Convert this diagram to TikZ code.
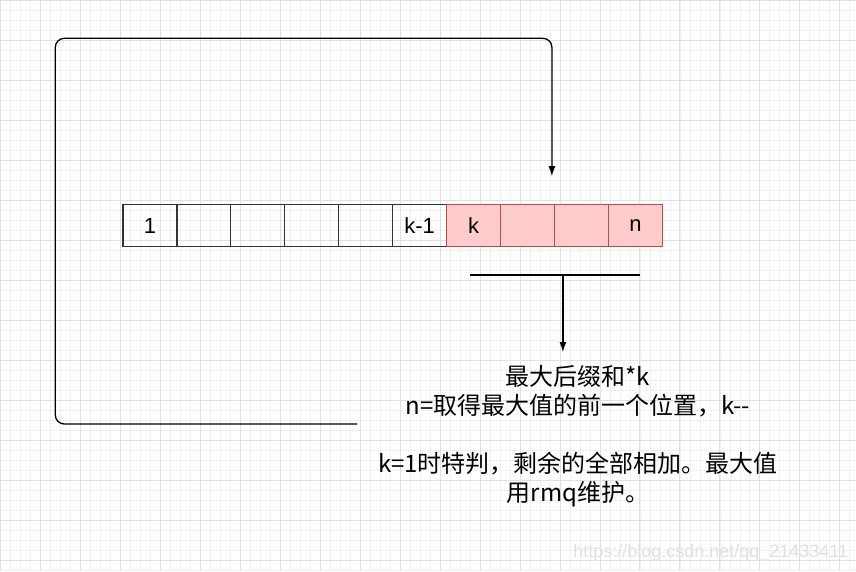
\documentclass[tikz,border=0pt]{standalone}
\usepackage{fontspec}
\setmainfont{Liberation Sans}
\newfontfamily\cjk{Noto Sans CJK SC}
\begin{document}
\begin{tikzpicture}[x=1pt,y=-1pt,
  cell/.style={draw=black!80,line width=1.3pt,minimum width=54pt,minimum height=42pt,inner sep=0pt,anchor=north west,font=\fontsize{22}{24}\selectfont},
  pcell/.style={cell,draw=red!60!black!70,fill=red!20},
  conn/.style={line width=1.3pt,-{Latex[length=10pt,width=7pt]}}]
\usetikzlibrary{arrows.meta}
\fill[white] (0,0) rectangle (856,571);
\draw[black!6,line width=0.5pt] (0,0) grid[step=10pt] (856,571);
\draw[black!12,line width=0.7pt] (0,0) grid[step=40pt] (856,571);
\useasboundingbox (0,0) rectangle (856,571);
\foreach \i/\t in {0/1,1/,2/,3/,4/,5/k-1}{\node[cell] (c\i) at (122+54*\i,204) {\t};}
\foreach \i/\t in {6/k,7/,8/,9/n}{\node[pcell] (c\i) at (122+54*\i,204) {\t};}
\coordinate (s) at (357,424);
\coordinate (e) at (552,176);
\draw[conn,rounded corners=9pt] (s) -- (55,424) -- (55,38) -- (552,38) -- (e);
\coordinate (l1) at (470,275); \coordinate (l2) at (640,275);
\draw[line width=1.3pt] (l1) -- (l2);
\coordinate (m) at (563,275);
\node[font=\cjk\fontsize{24}{29}\selectfont,align=center,anchor=north,inner sep=0pt] (t) at (578,365)
 {最大后缀和*k\\n=取得最大值的前一个位置，k--\\[0pt]\mbox{}\\k=1时特判，剩余的全部相加。最大值\\用rmq维护。};
\draw[conn] (m) -- (563,352);
\node[text=black!12,font=\fontsize{18}{20}\selectfont,anchor=east] (w) at (852,553) {https://blog.csdn.net/qq\_21433411};
\end{tikzpicture}
\end{document}
